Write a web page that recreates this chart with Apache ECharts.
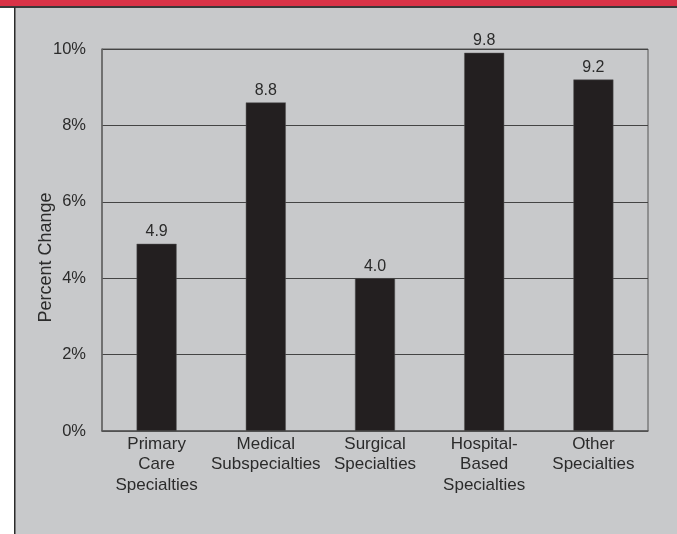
<!DOCTYPE html>
<html>
<head>
<meta charset="utf-8">
<script src="https://cdn.jsdelivr.net/npm/echarts@6/dist/echarts.min.js"></script>
<style>
  html, body { margin: 0; padding: 0; background: #fff; }
  #chart { width: 677px; height: 534px; }
</style>
</head>
<body>
<div id="chart"></div>
<script>
// categories and values
var categories = [
  'Primary\nCare\nSpecialties',
  'Medical\nSubspecialties',
  'Surgical\nSpecialties',
  'Hospital-\nBased\nSpecialties',
  'Other\nSpecialties'
];
var barValues = [4.9, 8.6, 4.0, 9.9, 9.2];      // bar heights as drawn
var valueLabels = ['4.9', '8.8', '4.0', '9.8', '9.2']; // printed labels
var yTicks = [0, 2, 4, 6, 8, 10];

var chart = echarts.init(document.getElementById('chart'));
var textColor = '#2b2b2b';
var font = 'Liberation Sans, Arial, sans-serif';

chart.setOption({
  animation: false,
  backgroundColor: '#fff',
  graphic: [
    { type: 'rect', z: -10, shape: { x: 15, y: 7, width: 662, height: 527 }, style: { fill: '#c8c9cb' } },
    { type: 'rect', z: -9, shape: { x: 0, y: 0, width: 677, height: 6.5 }, style: { fill: '#d93347' } },
    { type: 'rect', z: -9, shape: { x: 0, y: 6, width: 677, height: 2 }, style: { fill: '#3a3a3a' } },
    { type: 'rect', z: -9, shape: { x: 14, y: 7, width: 1.5, height: 527 }, style: { fill: '#2b2b2b' } }
  ],
  grid: {
    left: 102, right: 29, top: 49, bottom: 103,
    show: true, borderColor: '#555', borderWidth: 1, backgroundColor: 'transparent'
  },
  xAxis: {
    type: 'category',
    data: categories,
    axisLine: { lineStyle: { color: '#555', width: 1.5 } },
    axisTick: { inside: true, length: 9, lineStyle: { color: '#555' } },
    axisLabel: {
      color: textColor, fontFamily: font, fontSize: 17, lineHeight: 20.5,
      margin: 3, interval: 0
    }
  },
  yAxis: {
    type: 'value',
    min: yTicks[0], max: yTicks[yTicks.length - 1], interval: 2,
    name: 'Percent Change',
    nameLocation: 'middle',
    nameGap: 47,
    nameMoveOverlap: false,
    nameTextStyle: { color: textColor, fontFamily: font, fontSize: 18, padding: [0, 35, 0, 0] },
    axisLine: { show: true, lineStyle: { color: '#666', width: 1.5 } },
    axisTick: { show: false },
    axisLabel: {
      color: textColor, fontFamily: font, fontSize: 16.5, margin: 16,
      formatter: function (v) { return v + '%'; }
    },
    splitLine: { lineStyle: { color: '#444', width: 1 } }
  },
  series: [{
    type: 'bar',
    data: barValues,
    barWidth: 40,
    itemStyle: { color: '#231f20', borderColor: '#555', borderWidth: 0.5 },
    label: {
      show: true, position: 'top', distance: 4,
      color: textColor, fontFamily: font, fontSize: 16,
      formatter: function (p) { return valueLabels[p.dataIndex]; }
    }
  }]
});
</script>
</body>
</html>
